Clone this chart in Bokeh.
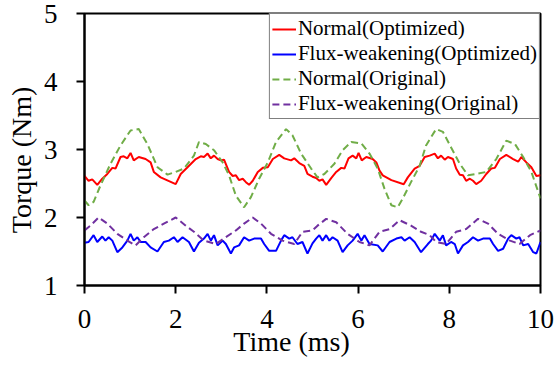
from bokeh.plotting import figure
from bokeh.models import Range1d, FixedTicker, Legend, LegendItem
from bokeh.embed import file_html
from bokeh.resources import INLINE

# ---- data ----
t_norm_opt = [0, 0.09, 0.17, 0.28, 0.39, 0.50, 0.61, 0.68, 0.79, 0.86, 0.94, 1.01, 1.08, 1.19, 1.34, 1.45,
              1.52, 1.67, 2.0, 2.11, 2.26, 2.44, 2.55, 2.62, 2.70, 2.77, 2.84, 2.92, 2.99, 3.06, 3.17, 3.25,
              3.32, 3.39, 3.47, 3.54, 3.61, 3.69, 3.80, 3.91, 4.02, 4.13, 4.27, 4.38, 4.53, 4.60, 4.71, 4.82,
              4.89, 5.0, 5.08, 5.15, 5.22, 5.30, 5.41, 5.52, 5.63, 5.70, 5.79, 5.88, 5.96, 6.01, 6.08, 6.18,
              6.32, 6.40, 6.47, 6.54, 6.73, 7.0, 7.09, 7.24, 7.35, 7.46, 7.57, 7.68, 7.75, 7.82, 7.90, 7.97,
              8.08, 8.15, 8.23, 8.30, 8.37, 8.45, 8.52, 8.59, 8.70, 8.81, 8.92, 9.00, 9.11, 9.25, 9.40, 9.51,
              9.58, 9.69, 9.80, 9.91, 10.0]
y_norm_opt = [2.61, 2.54, 2.56, 2.48, 2.57, 2.64, 2.73, 2.72, 2.89, 2.90, 2.87, 2.95, 2.84, 2.89, 2.86, 2.81,
              2.67, 2.59, 2.49, 2.64, 2.74, 2.86, 2.90, 2.89, 2.94, 2.87, 2.91, 2.86, 2.84, 2.85, 2.67, 2.61,
              2.62, 2.55, 2.57, 2.52, 2.48, 2.54, 2.67, 2.73, 2.74, 2.86, 2.92, 2.87, 2.84, 2.87, 2.80, 2.76,
              2.64, 2.60, 2.58, 2.54, 2.56, 2.48, 2.58, 2.67, 2.73, 2.72, 2.87, 2.91, 2.87, 2.95, 2.84, 2.89,
              2.86, 2.81, 2.69, 2.62, 2.55, 2.49, 2.59, 2.72, 2.76, 2.89, 2.91, 2.94, 2.87, 2.91, 2.85, 2.89,
              2.86, 2.72, 2.63, 2.62, 2.54, 2.57, 2.54, 2.49, 2.54, 2.64, 2.72, 2.73, 2.86, 2.92, 2.86, 2.82,
              2.89, 2.81, 2.74, 2.61, 2.62]

t_flux_opt = [0, 0.09, 0.2, 0.28, 0.39, 0.46, 0.53, 0.61, 0.72, 0.83, 0.94, 1.01, 1.08, 1.16, 1.23, 1.34,
              1.45, 1.60, 1.74, 1.85, 1.96, 2.04, 2.15, 2.29, 2.40, 2.51, 2.62, 2.70, 2.77, 2.84, 2.92, 3.03,
              3.10, 3.21, 3.28, 3.39, 3.50, 3.61, 3.72, 3.87, 3.94, 4.05, 4.20, 4.31, 4.38, 4.49, 4.56, 4.67,
              4.78, 4.89, 5.0, 5.08, 5.15, 5.22, 5.30, 5.37, 5.44, 5.55, 5.66, 5.77, 5.88, 5.99, 6.07, 6.14,
              6.25, 6.43, 6.54, 6.69, 6.84, 6.95, 7.02, 7.13, 7.24, 7.38, 7.53, 7.60, 7.68, 7.79, 7.86, 7.93,
              8.04, 8.12, 8.19, 8.30, 8.41, 8.52, 8.63, 8.74, 8.89, 8.96, 9.07, 9.18, 9.29, 9.36, 9.47, 9.54,
              9.62, 9.73, 9.84, 9.91, 10.0]
y_flux_opt = [1.63, 1.64, 1.74, 1.64, 1.72, 1.66, 1.71, 1.66, 1.49, 1.56, 1.66, 1.76, 1.66, 1.71, 1.64, 1.64,
              1.56, 1.50, 1.64, 1.66, 1.71, 1.64, 1.71, 1.64, 1.50, 1.63, 1.69, 1.76, 1.66, 1.74, 1.59, 1.66,
              1.61, 1.47, 1.56, 1.59, 1.71, 1.66, 1.69, 1.69, 1.61, 1.51, 1.51, 1.66, 1.74, 1.69, 1.71, 1.61,
              1.64, 1.47, 1.62, 1.69, 1.74, 1.66, 1.74, 1.66, 1.71, 1.66, 1.49, 1.59, 1.66, 1.76, 1.66, 1.74,
              1.61, 1.59, 1.50, 1.64, 1.69, 1.71, 1.66, 1.71, 1.64, 1.49, 1.61, 1.66, 1.76, 1.66, 1.74, 1.59,
              1.64, 1.61, 1.47, 1.59, 1.64, 1.71, 1.66, 1.69, 1.69, 1.61, 1.51, 1.54, 1.69, 1.74, 1.69, 1.71,
              1.59, 1.61, 1.49, 1.47, 1.64]

t_norm_orig = [0, 0.09, 0.2, 0.35, 0.57, 0.79, 1.01, 1.19, 1.38, 1.60, 1.82, 2.0, 2.18, 2.40, 2.51, 2.66,
               2.84, 3.03, 3.17, 3.32, 3.50, 3.65, 3.83, 4.02, 4.20, 4.42, 4.56, 4.75, 4.97, 5.11, 5.26, 5.48,
               5.66, 5.85, 6.07, 6.25, 6.43, 6.58, 6.73, 6.87, 6.98, 7.16, 7.35, 7.49, 7.71, 7.86, 8.04, 8.23,
               8.41, 8.59, 8.81, 9.03, 9.25, 9.44, 9.62, 9.80, 10.0]
y_norm_orig = [2.25, 2.18, 2.23, 2.47, 2.79, 3.06, 3.28, 3.30, 3.08, 2.74, 2.63, 2.67, 2.72, 2.91, 3.11, 3.08,
               2.99, 2.81, 2.62, 2.32, 2.15, 2.30, 2.57, 2.81, 3.11, 3.30, 3.21, 2.94, 2.72, 2.59, 2.64, 2.79,
               2.99, 3.11, 3.09, 2.94, 2.72, 2.42, 2.18, 2.15, 2.28, 2.52, 2.76, 3.06, 3.30, 3.26, 3.03, 2.79,
               2.62, 2.64, 2.67, 2.86, 3.13, 3.08, 2.89, 2.67, 2.28]

t_flux_orig = [0, 0.13, 0.31, 0.50, 0.72, 0.94, 1.12, 1.30, 1.52, 1.74, 2.0, 2.22, 2.40, 2.62, 2.88, 3.10,
               3.32, 3.50, 3.69, 3.87, 4.09, 4.34, 4.60, 4.78, 5.0, 5.11, 5.30, 5.52, 5.77, 6.03, 6.25, 6.47,
               6.69, 6.91, 7.16, 7.38, 7.57, 7.71, 7.93, 8.15, 8.37, 8.63, 8.85, 9.07, 9.33, 9.54, 9.77, 10.0]
y_flux_orig = [1.81, 1.88, 2.00, 1.91, 1.76, 1.66, 1.59, 1.71, 1.83, 1.91, 2.00, 1.88, 1.79, 1.66, 1.61, 1.71,
               1.81, 1.91, 2.00, 1.91, 1.76, 1.66, 1.61, 1.79, 1.81, 1.88, 1.98, 1.93, 1.76, 1.64, 1.59, 1.79,
               1.83, 1.96, 1.88, 1.79, 1.74, 1.64, 1.61, 1.79, 1.83, 1.98, 1.91, 1.76, 1.66, 1.61, 1.74, 1.81]

x_ticks = [0, 2, 4, 6, 8, 10]
y_ticks = [1, 2, 3, 4, 5]

FONT = "Liberation Serif"
NBSP = "\u00a0"

p = figure(width=556, height=366, output_backend="svg", toolbar_location=None,
           x_range=Range1d(0, 10), y_range=Range1d(1, 5),
           min_border_left=84, min_border_right=16, min_border_top=13, min_border_bottom=81)
p.grid.visible = False
p.outline_line_color = "black"
p.outline_line_width = 2
p.outline_line_alpha = 1.0
p.background_fill_color = "white"
p.border_fill_color = "white"

for ax in (p.xaxis[0], p.yaxis[0]):
    ax.axis_line_width = 2
    ax.axis_line_color = "black"
    ax.major_tick_line_width = 2
    ax.major_tick_line_color = "black"
    ax.major_tick_in = 0
    ax.major_tick_out = 8
    ax.minor_tick_line_color = None
    ax.major_label_text_font = FONT
    ax.major_label_text_font_size = "27px"
    ax.major_label_text_font_style = "normal"
    ax.major_label_text_color = "black"
    ax.axis_label_text_font = FONT
    ax.axis_label_text_font_size = "28px"
    ax.axis_label_text_font_style = "normal"
    ax.axis_label_text_color = "black"

p.xaxis[0].ticker = FixedTicker(ticks=x_ticks)
p.yaxis[0].ticker = FixedTicker(ticks=y_ticks)
p.xaxis[0].major_label_standoff = 16
p.yaxis[0].major_label_standoff = 19
# trailing non-breaking spaces shift the visible text off-centre, as in the reference
p.xaxis[0].axis_label = "Time (ms)" + NBSP * 6
p.yaxis[0].axis_label = "Torque (Nm)" + NBSP * 3
p.xaxis[0].axis_label_standoff = -5
p.yaxis[0].axis_label_standoff = 4

r1 = p.line(t_norm_opt, y_norm_opt, line_color="#FF0000", line_width=2)
r2 = p.line(t_flux_opt, y_flux_opt, line_color="#0000FF", line_width=2)
r3 = p.line(t_norm_orig, y_norm_orig, line_color="#70AD47", line_width=2, line_dash="7 4")
r4 = p.line(t_flux_orig, y_flux_orig, line_color="#7030A0", line_width=2, line_dash="7 4")

legend = Legend(items=[
    LegendItem(label="Normal(Optimized)", renderers=[r1]),
    LegendItem(label="Flux-weakening(Optimized)", renderers=[r2]),
    LegendItem(label="Normal(Original)", renderers=[r3]),
    LegendItem(label="Flux-weakening(Original)", renderers=[r4]),
], location="top_right", margin=0, padding=2, spacing=-3, label_height=20, glyph_height=20,
    glyph_width=24, label_standoff=2, border_line_color="black", border_line_width=1,
    label_text_font=FONT, label_text_font_size="21px", label_text_color="black",
    background_fill_color="white", background_fill_alpha=1.0)
p.add_layout(legend)

open("out.html", "w").write(file_html(p, INLINE))
